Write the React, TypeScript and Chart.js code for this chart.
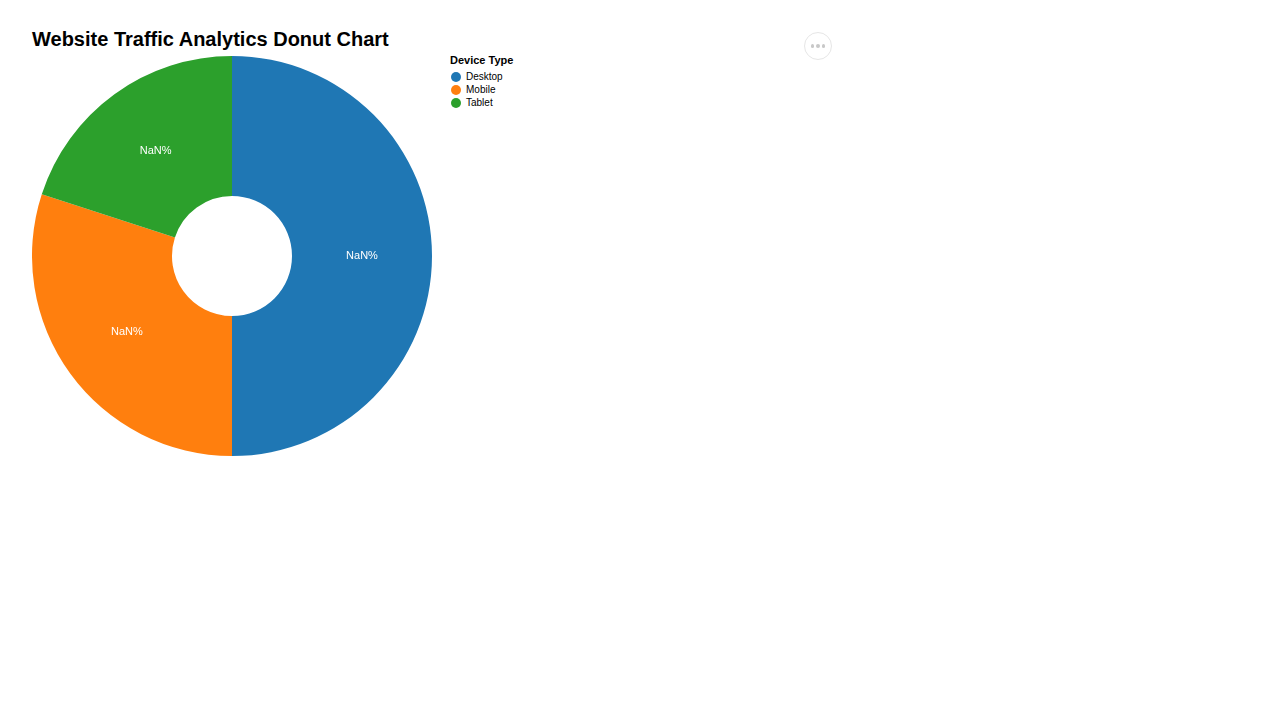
import { Chart, registerables } from "chart.js";
import React, { useEffect, useRef } from "react";

Chart.register(...registerables);

const devices = ["Desktop", "Mobile", "Tablet"];
const shares = [50, 30, 20];
const colors = ["#1f77b4", "#ff7f0e", "#2ca02c"];
// the source chart printed its labels as NaN%
const sliceLabels = ["NaN%", "NaN%", "NaN%"];

const font = "'Liberation Sans', Arial, Helvetica, sans-serif";

const labelPlugin = {
  id: "sliceLabels",
  afterDatasetsDraw(chart: any) {
    const { ctx } = chart;
    const meta = chart.getDatasetMeta(0);
    ctx.save();
    ctx.fillStyle = "#ffffff";
    ctx.font = `11px ${font}`;
    ctx.textAlign = "center";
    ctx.textBaseline = "middle";
    meta.data.forEach((arc: any, i: number) => {
      const p = arc.getCenterPoint();
      ctx.fillText(sliceLabels[i], p.x, p.y);
    });
    ctx.restore();
  },
};

const App: React.FC = () => {
  const canvasRef = useRef<HTMLCanvasElement>(null);

  useEffect(() => {
    const ctx = canvasRef.current?.getContext("2d");
    if (!ctx) return;
    const chart = new Chart(ctx, {
      type: "doughnut",
      data: {
        labels: devices,
        datasets: [{ data: shares, backgroundColor: colors, borderWidth: 0 }],
      },
      options: {
        responsive: false,
        animation: false,
        cutout: "30%",
        layout: { padding: 0 },
        plugins: { legend: { display: false }, tooltip: { enabled: false } },
      },
      plugins: [labelPlugin],
    });
    return () => chart.destroy();
  }, []);

  return (
    <div style={{ position: "fixed", left: 0, top: 0, width: 1280, height: 720, background: "#fff", fontFamily: font }}>
      <div style={{ position: "absolute", left: 32, top: 28, fontSize: 20, fontWeight: "bold", color: "#000" }}>
        Website Traffic Analytics Donut Chart
      </div>
      <canvas ref={canvasRef} width={400} height={400} style={{ position: "absolute", left: 32, top: 56, width: 400, height: 400 }} />
      <div style={{ position: "absolute", left: 450, top: 54, fontSize: 11, color: "#000" }}>
        <div style={{ fontWeight: "bold", marginBottom: 4 }}>Device Type</div>
        {devices.map((d, i) => (
          <div key={d} style={{ display: "flex", alignItems: "center", height: 13, fontSize: 10 }}>
            <span style={{ width: 10, height: 10, borderRadius: 5, background: colors[i], marginLeft: 1, marginRight: 5 }} />
            {d}
          </div>
        ))}
      </div>
      <div style={{ position: "absolute", left: 804, top: 32, width: 26, height: 26, borderRadius: 14, border: "1px solid #e6e6e6", display: "flex", alignItems: "center", justifyContent: "center", gap: 2 }}>
        {[0, 1, 2].map((k) => (
          <span key={k} style={{ width: 3.5, height: 3.5, borderRadius: 2, background: "#c8c8c8" }} />
        ))}
      </div>
    </div>
  );
};

export default App;
